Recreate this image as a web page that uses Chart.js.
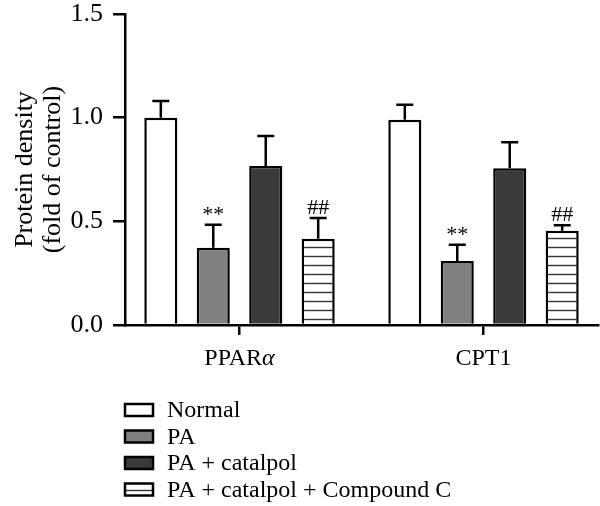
<!DOCTYPE html>
<html>
<head>
<meta charset="utf-8">
<script src="https://cdn.jsdelivr.net/npm/chart.js@4/dist/chart.umd.min.js"></script>
<style>
  html, body { margin: 0; padding: 0; background: #fff; }
  #wrap { width: 600px; height: 506px; }
</style>
</head>
<body>
<div id="wrap"><canvas id="grafica"></canvas></div>
<script>
// Datos
const categorias = ['PPAR', 'CPT1'];
const categoriasSufijo = ['α', ''];   // letra griega en cursiva
const grupos = ['Normal', 'PA', 'PA + catalpol', 'PA + catalpol + Compound C'];

const normal = [1.0, 0.99];
const normalErr = [0.08, 0.072];
const pa = [0.373, 0.309];
const paErr = [0.11, 0.078];
const catalpol = [0.767, 0.756];
const catalpolErr = [0.145, 0.125];
const compoundC = [0.416, 0.455];
const compoundCErr = [0.1, 0.026];

const paMarks = ['**', '**'];
const compoundCMarks = ['##', '##'];

const yTicks = [0, 0.5, 1.0, 1.5];

const FUENTE = '"Liberation Serif", "DejaVu Serif", serif';

// Patron de rayas horizontales
function rayas() {
    const c = document.createElement('canvas');
    c.width = 8; c.height = 9;
    const g = c.getContext('2d');
    g.fillStyle = '#fff';
    g.fillRect(0, 0, 8, 9);
    g.strokeStyle = '#333';
    g.lineWidth = 1.4;
    g.beginPath();
    g.moveTo(0, 4.5); g.lineTo(8, 4.5);
    g.stroke();
    return g.createPattern(c, 'repeat');
}

const toXY = arr => arr.map((v, i) => ({ x: i, y: v }));

const series = [
    { label: grupos[0], data: toXY(normal), err: normalErr, marks: null, backgroundColor: '#ffffff' },
    { label: grupos[1], data: toXY(pa), err: paErr, marks: paMarks, backgroundColor: '#808080' },
    { label: grupos[2], data: toXY(catalpol), err: catalpolErr, marks: null, backgroundColor: '#3a3a3a' },
    { label: grupos[3], data: toXY(compoundC), err: compoundCErr, marks: compoundCMarks, backgroundColor: rayas() }
];

// Barras de error, marcas, etiquetas de categoria y leyenda
const extras = {
    id: 'extras',
    afterDatasetsDraw(chart) {
        const ctx = chart.ctx;
        const y = chart.scales.y;
        const x = chart.scales.x;
        ctx.save();
        chart.data.datasets.forEach((ds, di) => {
            const meta = chart.getDatasetMeta(di);
            meta.data.forEach((bar, i) => {
                const top = y.getPixelForValue(ds.data[i].y + ds.err[i]);
                ctx.strokeStyle = '#000';
                ctx.lineWidth = 2.5;
                ctx.beginPath();
                ctx.moveTo(bar.x, bar.y);
                ctx.lineTo(bar.x, top);
                ctx.moveTo(bar.x - 8.5, top);
                ctx.lineTo(bar.x + 8.5, top);
                ctx.stroke();
                if (ds.marks) {
                    ctx.fillStyle = '#000';
                    ctx.font = '22px ' + FUENTE;
                    ctx.textAlign = 'center';
                    ctx.textBaseline = 'alphabetic';
                    ctx.fillText(ds.marks[i], bar.x, top - 4);
                }
            });
        });
        // etiquetas de categoria
        categorias.forEach((c, i) => {
            const cx = x.getPixelForValue(i);
            ctx.font = '24px ' + FUENTE;
            const w1 = ctx.measureText(c).width;
            ctx.font = 'italic 24px ' + FUENTE;
            const w2 = ctx.measureText(categoriasSufijo[i]).width;
            const x0 = cx - (w1 + w2) / 2;
            ctx.fillStyle = '#000';
            ctx.textAlign = 'left';
            ctx.textBaseline = 'alphabetic';
            ctx.font = '24px ' + FUENTE;
            ctx.fillText(c, x0, 365);
            ctx.font = 'italic 24px ' + FUENTE;
            ctx.fillText(categoriasSufijo[i], x0 + w1, 365);
        });
        // leyenda
        const lx = 125, ly = 410, paso = 26.5;
        chart.data.datasets.forEach((ds, di) => {
            const yy = ly + di * paso;
            ctx.fillStyle = ds.backgroundColor;
            ctx.fillRect(lx, yy - 6, 28, 12);
            ctx.strokeStyle = '#000';
            ctx.lineWidth = 2.5;
            ctx.strokeRect(lx, yy - 6, 28, 12);
            ctx.fillStyle = '#000';
            ctx.font = '24px ' + FUENTE;
            ctx.textAlign = 'left';
            ctx.textBaseline = 'middle';
            ctx.fillText(ds.label, 167, yy + 1);
        });
        ctx.restore();
    }
};

const config = {
    type: 'bar',
    data: {
        datasets: series.map(s => ({
            label: s.label,
            data: s.data,
            err: s.err,
            marks: s.marks,
            backgroundColor: s.backgroundColor,
            borderColor: '#000',
            borderWidth: 2.5,
            categoryPercentage: 0.86,
            barPercentage: 0.63
        }))
    },
    options: {
        responsive: true,
        maintainAspectRatio: false,
        animation: false,
        layout: { padding: { top: 14, right: 2, bottom: 171, left: 11 } },
        plugins: {
            legend: { display: false },
            tooltip: { enabled: false }
        },
        scales: {
            x: {
                type: 'linear',
                offset: false,
                min: -0.4693,
                max: 1.4693,
                afterBuildTicks: scale => { scale.ticks = categorias.map((c, i) => ({ value: i })); },
                ticks: { display: false },
                grid: { offset: false, drawOnChartArea: false, drawTicks: true, tickLength: 10, color: '#000', lineWidth: 2.5 },
                border: { color: '#000', width: 2.5 }
            },
            y: {
                min: 0,
                max: 1.5,
                afterBuildTicks: scale => { scale.ticks = yTicks.map(v => ({ value: v })); },
                afterFit: scale => {
                    scale.paddingTop = 0;
                    scale.paddingBottom = 0;
                    scale.width = 114;
                },
                ticks: {
                    color: '#000',
                    font: { family: FUENTE, size: 26 },
                    padding: 10,
                    callback: v => Number(v).toFixed(1)
                },
                grid: { drawOnChartArea: false, drawTicks: true, tickLength: 12, color: '#000', lineWidth: 2.5 },
                border: { color: '#000', width: 2.5 },
                title: {
                    display: true,
                    text: ['Protein density', '(fold of control)'],
                    color: '#000',
                    font: { family: FUENTE, size: 26, lineHeight: 1.08 },
                    padding: { top: 0, bottom: 0 }
                }
            }
        }
    },
    plugins: [extras]
};

var grafica = new Chart(document.getElementById('grafica'), config);
</script>
</body>
</html>
